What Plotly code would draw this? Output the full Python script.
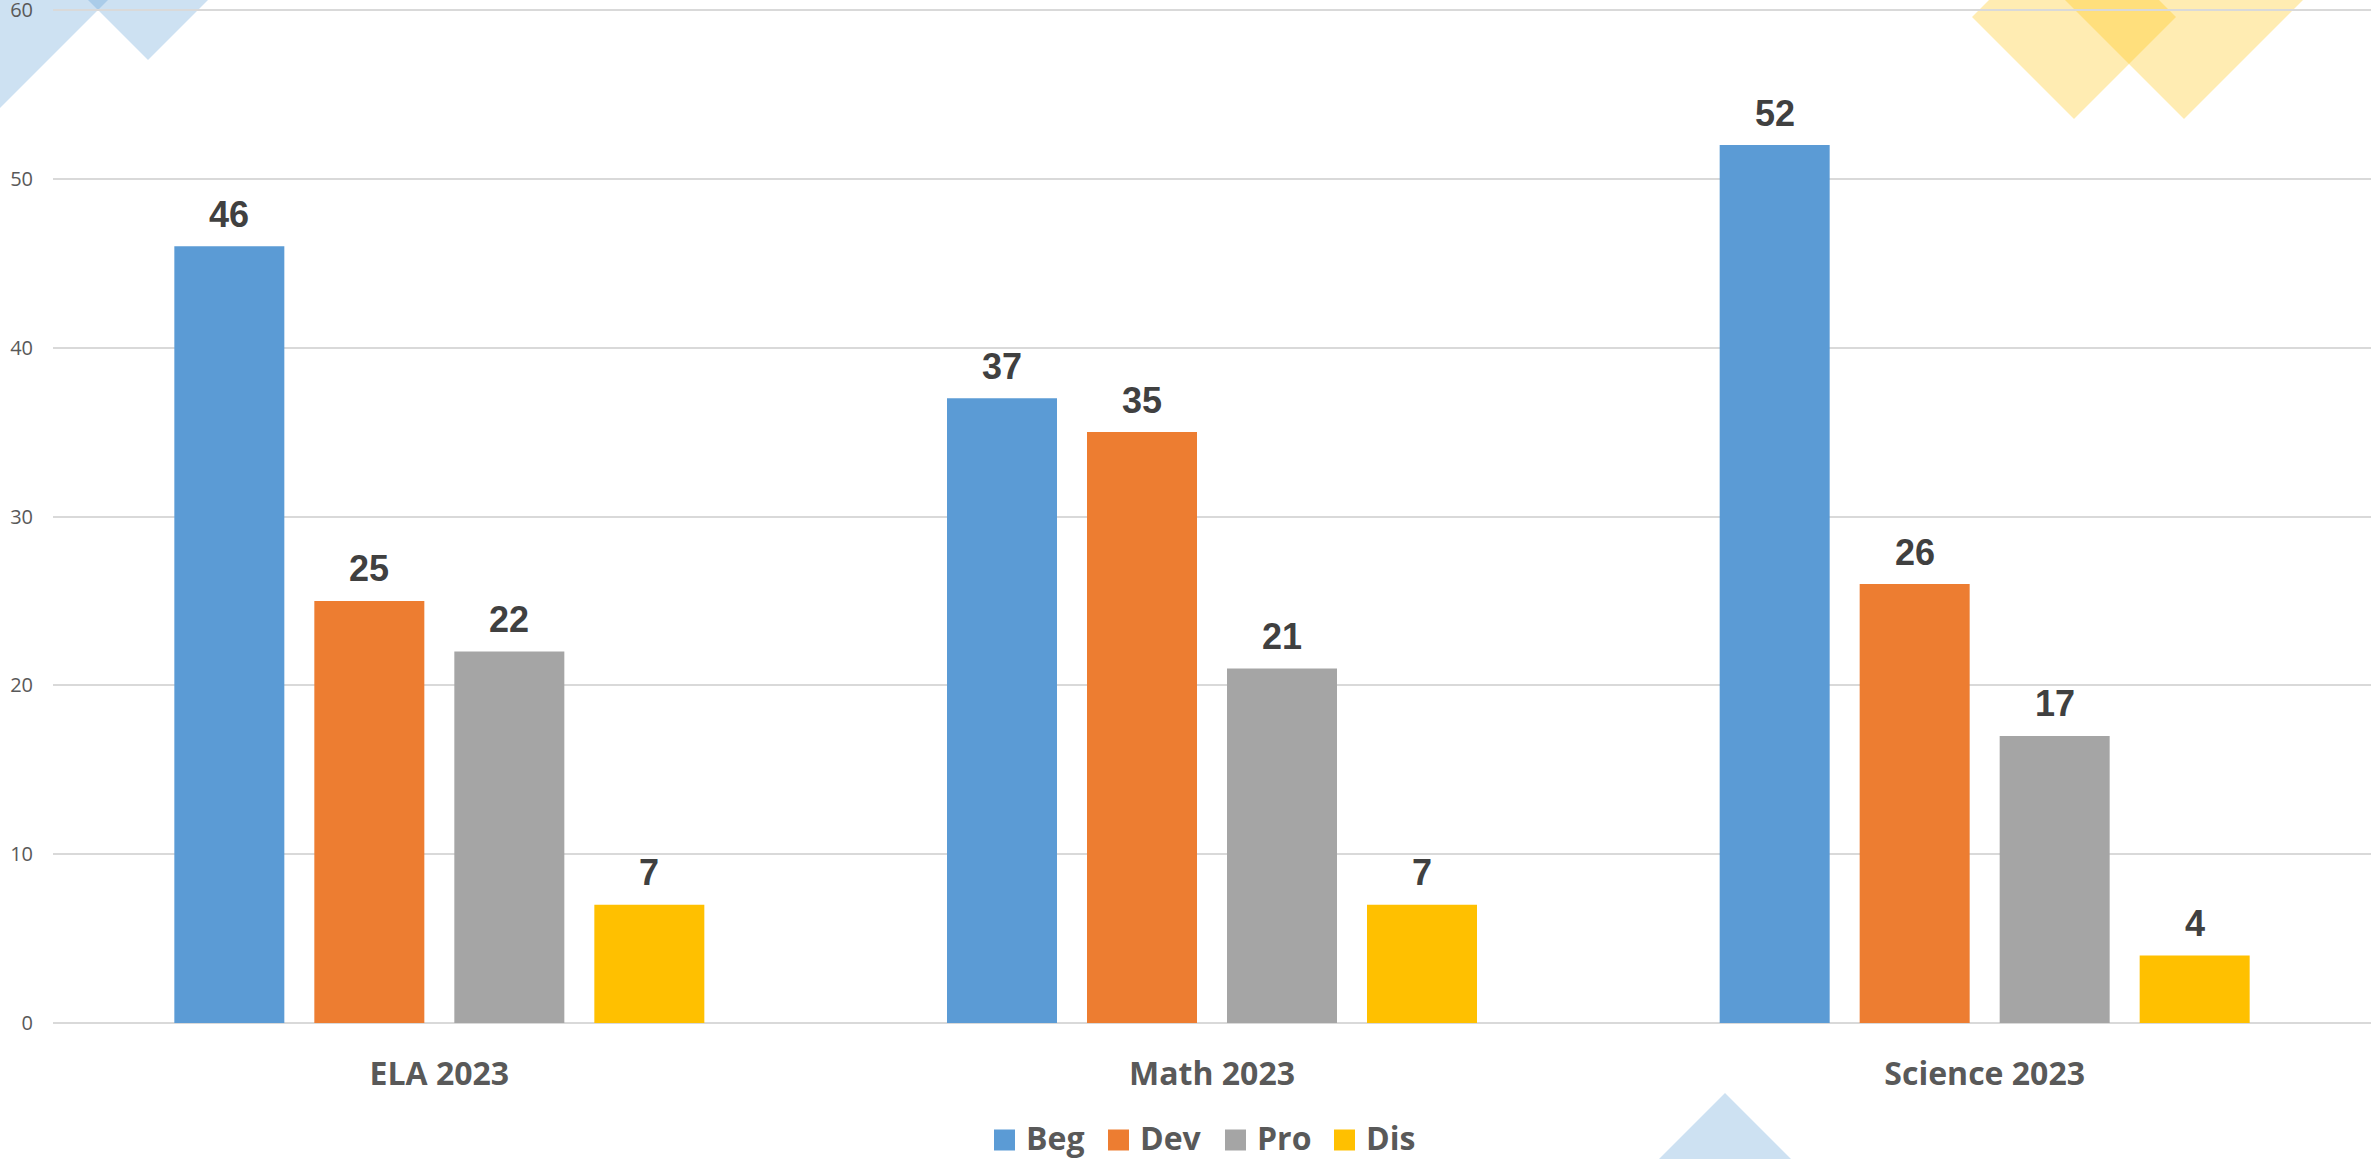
import plotly.graph_objects as go

categories = ["ELA 2023", "Math 2023", "Science 2023"]
series_names = ["Beg", "Dev", "Pro", "Dis"]
beg = [46, 37, 52]
dev = [25, 35, 26]
pro = [22, 21, 17]
dis = [7, 7, 4]
y_ticks = [0, 10, 20, 30, 40, 50, 60]

series_values = [beg, dev, pro, dis]
colors = ["#5B9BD5", "#ED7D31", "#A5A5A5", "#FFC000"]

W, H = 2371, 1159
ML, MR, MT, MB = 53, 0, 5, 136
PW, PH = W - ML - MR, H - MT - MB
Y_TOP = 60 + 5 * 60 / (PH - 5)   # a little headroom so the 60 grid line is drawn

SLOT = 140          # pixel distance between neighbouring bars in a group
BAR_GAP = 1 - 4 * SLOT / (PW / 3)

fig = go.Figure()
for name, vals, col in zip(series_names, series_values, colors):
    fig.add_trace(go.Bar(
        x=categories, y=vals, name=name,
        marker=dict(color=col, line=dict(width=0)),
        showlegend=False, hoverinfo="x+y+name",
    ))

annotations = []
label_font = dict(family="Liberation Sans, Arial", size=36, color="#404040", weight="bold")
for i, vals in enumerate(series_values):
    for cat, v in zip(categories, vals):
        annotations.append(dict(text=str(v), x=cat, y=v, xref="x", yref="y",
                                xshift=(i - 1.5) * SLOT, yshift=32,
                                xanchor="center", yanchor="middle", showarrow=False,
                                font=label_font))


def px2paper(x, y):
    return (x - ML) / PW, (H - MB - y) / PH


def diamond(cx, cy, h, fill):
    pts = [(cx - h, cy), (cx, cy - h), (cx + h, cy), (cx, cy + h)]
    p = [px2paper(a, b) for a, b in pts]
    path = "M " + " L ".join(f"{a:.5f},{b:.5f}" for a, b in p) + " Z"
    return dict(type="path", path=path, xref="paper", yref="paper",
                fillcolor=fill, line=dict(width=0), layer="below")


blue_t = "rgba(91,155,213,0.30)"
yel_t = "rgba(255,192,0,0.30)"
shapes = [
    diamond(0, 0, 108, blue_t),
    diamond(148, 0, 60, blue_t),
    diamond(2074, 17, 102, yel_t),
    diamond(2184, -31, 150, yel_t),
    diamond(1725, 1193, 100, blue_t),
]

# legend drawn from the series names / colours
legend_x = [994, 1108, 1225, 1334]   # pixel left edge of each legend swatch
SW = 21
LEG_Y = 1137
for name, col, lx in zip(series_names, colors, legend_x):
    x0, y0 = px2paper(lx, LEG_Y + 3 - SW / 2)
    x1, y1 = px2paper(lx + SW, LEG_Y + 3 + SW / 2)
    shapes.append(dict(type="rect", xref="paper", yref="paper", x0=x0, x1=x1, y0=y1, y1=y0,
                       fillcolor=col, line=dict(width=0), layer="above"))
    tx, ty = px2paper(lx + SW + 9, LEG_Y)
    annotations.append(dict(text=name, xref="paper", yref="paper", x=tx, y=ty,
                            xanchor="left", yanchor="middle", showarrow=False,
                            font=dict(family="Open Sans", size=32, color="#595959", weight="bold")))

fig.update_layout(
    width=W, height=H,
    margin=dict(l=ML, r=MR, t=MT, b=MB, pad=0, autoexpand=False),
    paper_bgcolor="white",
    plot_bgcolor="rgba(0,0,0,0)",
    barmode="group",
    bargap=BAR_GAP,
    bargroupgap=30 / SLOT,
    shapes=shapes,
    annotations=annotations,
    showlegend=False,
    font=dict(family="Open Sans", color="#595959"),
)
fig.update_xaxes(
    showgrid=False, showline=False, ticks="", ticklabelstandoff=29, automargin=False,
    tickfont=dict(family="Open Sans", size=32, color="#595959", weight="bold"),
)
fig.update_yaxes(
    range=[0, Y_TOP], tickvals=y_ticks, ticktext=[str(v) for v in y_ticks],
    showgrid=True, gridcolor="#D9D9D9", gridwidth=2,
    zeroline=True, zerolinecolor="#D9D9D9", zerolinewidth=2,
    showline=False, ticks="", ticklabelstandoff=19, automargin=False,
    ticklabeloverflow="allow",
    tickfont=dict(family="Open Sans", size=20, color="#595959"),
)

fig.write_html("out.html", config={"displayModeBar": False},
               post_script="document.body.style.margin='0';document.body.style.overflow='hidden';")
